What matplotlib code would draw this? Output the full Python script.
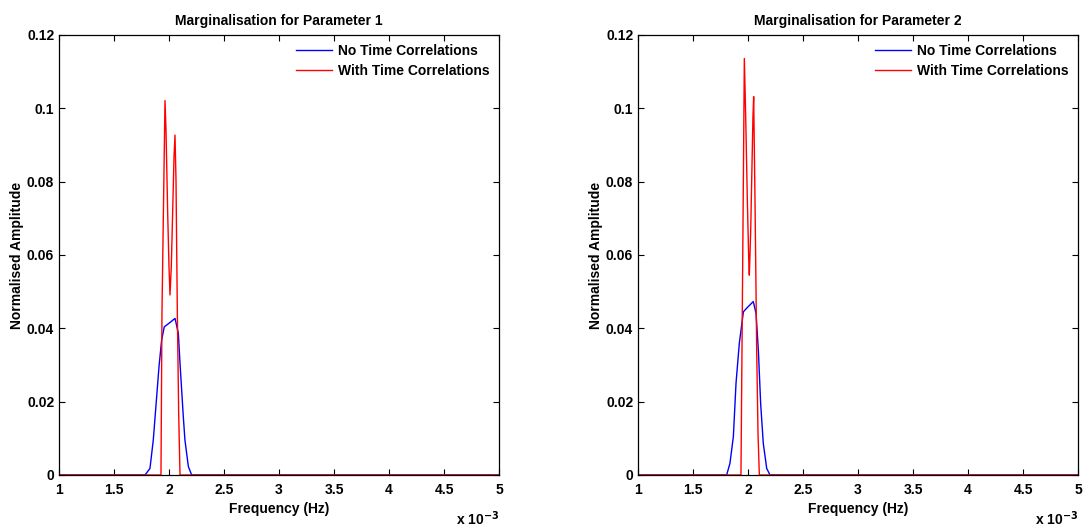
import numpy as np
import matplotlib
matplotlib.use("Agg")
import matplotlib.pyplot as plt
from matplotlib.ticker import FuncFormatter, MultipleLocator

plt.rcParams['font.family'] = ['Liberation Sans', 'DejaVu Sans']
plt.rcParams['font.weight'] = 'bold'
plt.rcParams['axes.titleweight'] = 'bold'
plt.rcParams['axes.labelweight'] = 'bold'

# Frequencies in units of 1e-3 Hz
freq1_no = [1.0, 1.782, 1.827, 1.857, 1.888, 1.909, 1.933, 1.957, 2.005, 2.055, 2.085,
            2.100, 2.130, 2.145, 2.176, 2.206, 5.0]
amp1_no = [0.0, 0.0, 0.0018, 0.0095, 0.0214, 0.0295, 0.0368, 0.0404, 0.0415, 0.0427, 0.0386,
           0.0305, 0.0159, 0.0095, 0.0023, 0.0, 0.0]

freq1_with = [1.0, 1.927, 1.936, 1.9636, 1.9727, 1.988, 2.000, 2.009, 2.021, 2.033, 2.0455,
              2.0545, 2.0636, 2.0758, 2.088, 2.100, 5.0]
amp1_with = [0.0, 0.0, 0.0441, 0.1021, 0.0941, 0.0714, 0.0568, 0.0491, 0.0568, 0.0714, 0.0868,
             0.0927, 0.0805, 0.0441, 0.0168, 0.0, 0.0]

freq2_no = [1.0, 1.806, 1.836, 1.867, 1.891, 1.921, 1.958, 1.988, 2.018, 2.048, 2.073,
            2.094, 2.115, 2.139, 2.170, 2.200, 5.0]
amp2_no = [0.0, 0.0, 0.0032, 0.0105, 0.0250, 0.0359, 0.0445, 0.0455, 0.0464, 0.0473, 0.0441,
           0.0341, 0.0195, 0.0086, 0.0018, 0.0, 0.0]

freq2_with = [1.0, 1.936, 1.9515, 1.9667, 1.979, 1.994, 2.006, 2.012, 2.024, 2.036, 2.045,
              2.0515, 2.0636, 2.079, 2.091, 2.103, 5.0]
amp2_with = [0.0, 0.0, 0.0568, 0.1136, 0.0977, 0.0750, 0.0595, 0.0545, 0.0659, 0.0841, 0.0977,
             0.1032, 0.0750, 0.0341, 0.0114, 0.0, 0.0]

titles = ["Marginalisation for Parameter 1", "Marginalisation for Parameter 2"]
labels = ["No Time Correlations", "With Time Correlations"]
scale = 1e-3

panels = [
    (freq1_no, amp1_no, freq1_with, amp1_with),
    (freq2_no, amp2_no, freq2_with, amp2_with),
]

fig = plt.figure(figsize=(10.88, 5.26), dpi=100)
lefts = [59 / 1088, 638 / 1088]
for i, (fn, an, fw, aw) in enumerate(panels):
    ax = fig.add_axes([lefts[i], 51 / 526, 440 / 1088, 440 / 526])
    ax.plot(np.array(fn) * scale, an, color=(0, 0, 1), lw=1.0, label=labels[0])
    ax.plot(np.array(fw) * scale, aw, color=(1, 0, 0), lw=1.0, label=labels[1])
    ax.set_xlim(1e-3, 5e-3)
    ax.set_ylim(0, 0.12)
    ax.xaxis.set_major_locator(MultipleLocator(0.5e-3))
    ax.yaxis.set_major_locator(MultipleLocator(0.02))
    ax.xaxis.set_major_formatter(FuncFormatter(lambda v, p: f"{v / scale:g}"))
    ax.yaxis.set_major_formatter(FuncFormatter(lambda v, p: f"{v:g}"))
    ax.tick_params(direction='in', top=True, right=True, labelsize=10, length=4, width=0.8)
    ax.tick_params(axis='x', pad=6)
    for s in ax.spines.values():
        s.set_linewidth(0.9)
    ax.set_title(titles[i], fontsize=10, pad=7)
    ax.set_xlabel("Frequency (Hz)", fontsize=10, labelpad=3)
    ax.set_ylabel("Normalised Amplitude", fontsize=10, labelpad=2)
    ax.text(1.0, -0.078, r"x 10$^{-3}$", transform=ax.transAxes, ha='right', va='top',
            fontsize=10, fontweight='bold')
    leg = ax.legend(loc='upper right', frameon=False, fontsize=10, handlelength=2.6,
                    handletextpad=0.45, borderaxespad=0.25, labelspacing=0.45)
    for t in leg.get_texts():
        t.set_fontweight('bold')

fig.savefig("out.png", dpi=100)
